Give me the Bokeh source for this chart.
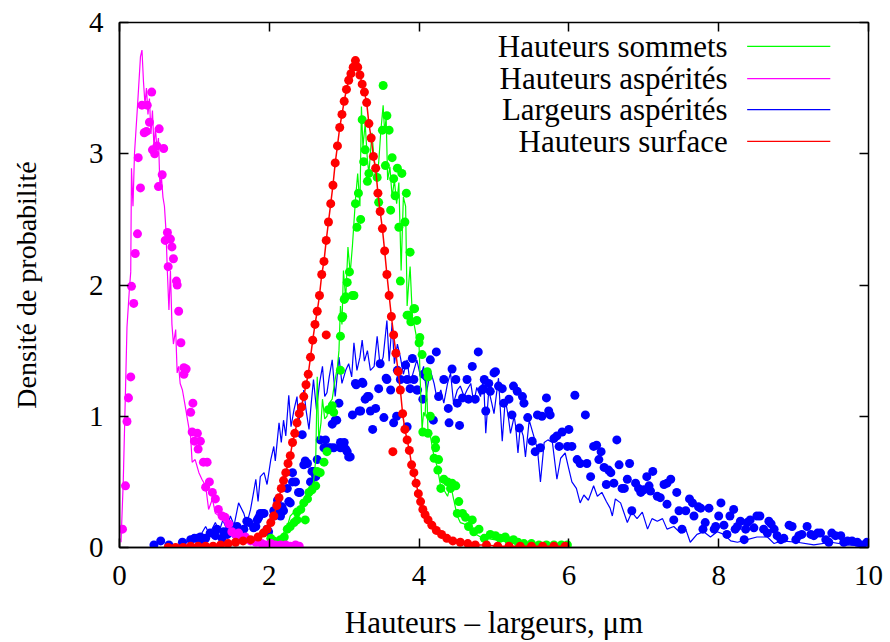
from bokeh.plotting import figure
from bokeh.models import LinearAxis, FixedTicker, Label, Range1d
from bokeh.embed import file_html
from bokeh.resources import INLINE

# ---------------- data ----------------
series_names = ["Hauteurs sommets", "Hauteurs aspérités", "Largeurs aspérités", "Hauteurs surface"]
series_colors = ["#00ff00", "#ff00ff", "#0000ff", "#ff0000"]
x_ticks = [0, 2, 4, 6, 8, 10]
y_ticks = [0, 1, 2, 3, 4]

# Hauteurs aspérités (magenta)
asp_line_x = [0.02, 0.05, 0.08, 0.10, 0.13, 0.15, 0.16, 0.18, 0.20, 0.24, 0.28, 0.30, 0.32, 0.34, 0.36,
              0.38, 0.40, 0.42, 0.44, 0.46, 0.48, 0.50, 0.52, 0.54, 0.56, 0.58, 0.60, 0.62, 0.64, 0.66,
              0.68, 0.70, 0.72, 0.75, 0.77, 0.79, 0.81, 0.84, 0.88, 0.90, 0.93, 0.95, 0.97, 1.01, 1.06,
              1.10, 1.15, 1.19, 1.24, 1.28, 1.33, 1.37, 1.42, 1.46, 1.51, 1.55, 1.60, 1.64, 1.70]
asp_line_y = [0.04, 0.50, 1.20, 1.68, 1.95, 2.10, 2.89, 2.60, 3.00, 3.36, 3.74, 3.79, 3.55, 3.38, 3.50,
              3.30, 3.42, 3.15, 3.33, 3.05, 3.20, 3.03, 3.12, 2.75, 2.82, 2.67, 2.60, 2.42, 2.09, 1.81,
              2.11, 1.70, 1.55, 1.66, 1.33, 1.38, 1.25, 1.20, 1.07, 1.00, 0.90, 0.84, 0.65, 0.67, 0.57,
              0.52, 0.47, 0.29, 0.37, 0.26, 0.24, 0.21, 0.18, 0.16, 0.12, 0.11, 0.08, 0.06, 0.04]
asp_pts_x = [0.04, 0.08, 0.10, 0.12, 0.15, 0.16, 0.19, 0.21, 0.24, 0.25, 0.28, 0.30, 0.33, 0.36, 0.37,
             0.40, 0.43, 0.44, 0.47, 0.50, 0.52, 0.53, 0.57, 0.59, 0.61, 0.64, 0.65, 0.68, 0.70, 0.72,
             0.76, 0.77, 0.79, 0.82, 0.86, 0.86, 0.89, 0.95, 0.97, 0.98, 1.00, 1.04, 1.05, 1.08, 1.12,
             1.15, 1.17, 1.20, 1.24, 1.28, 1.32, 1.37, 1.41, 1.46, 1.50, 1.55, 1.59, 1.64, 1.68, 1.75,
             1.82, 1.90, 1.95, 2.02, 2.08, 2.15, 2.22, 2.28, 2.35, 2.40]
asp_pts_y = [0.14, 0.47, 0.96, 1.14, 1.30, 1.99, 1.86, 2.24, 2.39, 2.97, 2.74, 3.37, 3.16, 3.17, 3.37,
             3.24, 3.47, 3.03, 3.00, 3.06, 2.75, 3.19, 2.84, 3.04, 2.34, 2.40, 2.14, 2.35, 2.29, 2.20,
             2.03, 2.00, 1.80, 1.56, 1.37, 1.32, 1.36, 1.03, 0.88, 1.10, 0.81, 0.87, 0.75, 0.81, 0.65,
             0.46, 0.65, 0.50, 0.42, 0.37, 0.29, 0.24, 0.23, 0.18, 0.12, 0.10, 0.11, 0.07, 0.08, 0.05,
             0.04, 0.03, 0.02, 0.03, 0.02, 0.02, 0.02, 0.01, 0.02, 0.01]

# Hauteurs sommets (green)
som_line_x = [1.95, 2.00, 2.05, 2.10, 2.15, 2.20, 2.25, 2.28, 2.33, 2.37, 2.42, 2.46, 2.50, 2.55, 2.58,
              2.62, 2.64, 2.66, 2.69, 2.71, 2.74, 2.77, 2.80, 2.84, 2.87, 2.91, 2.93, 2.95, 2.97, 2.99,
              3.02, 3.05, 3.08, 3.11, 3.15, 3.18, 3.21, 3.23, 3.25, 3.28, 3.31, 3.33, 3.37, 3.40, 3.42,
              3.46, 3.49, 3.52, 3.54, 3.56, 3.58, 3.61, 3.64, 3.67, 3.70, 3.73, 3.76, 3.79, 3.82, 3.84,
              3.86, 3.88, 3.91, 3.93, 3.96, 4.00, 4.02, 4.04, 4.06, 4.08, 4.10, 4.12, 4.15, 4.20, 4.24,
              4.29, 4.33, 4.38, 4.42, 4.46, 4.51, 4.55, 4.60, 4.64, 4.69, 4.73, 4.82, 4.90, 5.00, 5.10,
              5.20, 5.35, 5.50, 5.65, 5.80, 5.95]
som_line_y = [0.00, 0.02, 0.03, 0.05, 0.07, 0.12, 0.18, 0.24, 0.27, 0.22, 0.31, 0.35, 0.40, 0.47, 0.44,
              0.67, 1.30, 0.82, 0.95, 1.13, 0.98, 1.00, 1.10, 1.13, 1.25, 1.38, 1.50, 1.84, 1.70, 2.11,
              1.89, 2.29, 2.09, 2.30, 2.65, 2.85, 2.60, 3.36, 3.05, 3.23, 2.95, 2.85, 3.16, 2.95, 2.80,
              2.93, 3.18, 3.37, 3.16, 3.28, 2.80, 2.90, 2.67, 2.80, 2.62, 2.78, 2.11, 2.67, 2.60, 1.84,
              2.00, 2.14, 1.76, 1.71, 1.62, 1.53, 1.20, 0.90, 1.03, 1.00, 1.28, 0.85, 0.85, 0.69, 0.62,
              0.46, 0.44, 0.39, 0.48, 0.37, 0.24, 0.19, 0.18, 0.16, 0.13, 0.11, 0.08, 0.07, 0.06, 0.05,
              0.04, 0.03, 0.02, 0.02, 0.01, 0.01]
som_pts_x = [2.02, 2.06, 2.10, 2.15, 2.20, 2.24, 2.28, 2.33, 2.37, 2.37, 2.42, 2.48, 2.46, 2.51, 2.53,
             2.57, 2.62, 2.64, 2.68, 2.73, 2.77, 2.79, 2.84, 2.86, 2.95, 2.95, 2.97, 2.98, 3.00, 3.02,
             3.04, 3.07, 3.11, 3.13, 3.15, 3.17, 3.19, 3.22, 3.24, 3.26, 3.28, 3.31, 3.33, 3.44, 3.46,
             3.51, 3.52, 3.55, 3.57, 3.60, 3.62, 3.64, 3.66, 3.68, 3.71, 3.73, 3.75, 3.77, 3.81, 3.83,
             3.84, 3.86, 3.88, 3.89, 3.93, 3.94, 3.97, 4.00, 4.01, 4.04, 4.05, 4.11, 4.12, 4.12, 4.15,
             4.20, 4.22, 4.22, 4.25, 4.26, 4.29, 4.33, 4.38, 4.42, 4.44, 4.49, 4.51, 4.53, 4.58, 4.62,
             4.66, 4.71, 4.73, 4.80, 4.87, 4.95, 5.02, 5.08, 5.15, 5.20, 5.26, 5.32, 5.40, 5.50, 5.60,
             5.70, 5.80, 5.90, 5.98]
som_pts_y = [0.07, 0.05, 0.04, 0.06, 0.08, 0.14, 0.16, 0.19, 0.21, 0.27, 0.29, 0.21, 0.34, 0.37, 0.42,
             0.44, 0.47, 0.58, 0.57, 0.65, 0.73, 1.05, 1.08, 1.03, 1.35, 1.61, 1.75, 1.76, 1.89, 1.91,
             2.02, 2.10, 1.92, 1.92, 2.62, 2.44, 2.70, 2.50, 3.26, 2.94, 3.03, 2.79, 2.85, 2.82, 2.63,
             3.18, 3.52, 2.91, 3.29, 3.18, 2.57, 2.97, 2.81, 2.68, 2.89, 2.44, 2.03, 2.85, 2.48, 2.70,
             1.77, 1.77, 2.25, 1.72, 1.82, 1.82, 1.73, 1.56, 1.60, 1.47, 0.88, 1.34, 1.30, 0.87, 1.00,
             0.68, 0.82, 0.76, 0.59, 0.67, 0.45, 0.52, 0.50, 0.45, 0.49, 0.47, 0.26, 0.35, 0.26, 0.23,
             0.16, 0.21, 0.12, 0.14, 0.07, 0.10, 0.09, 0.07, 0.08, 0.05, 0.06, 0.04, 0.03, 0.03, 0.02,
             0.02, 0.02, 0.02, 0.02]

# Largeurs aspérités (blue)
lar_line_x = [0.84, 0.90, 0.97, 1.03, 1.10, 1.15, 1.20, 1.28, 1.33, 1.38, 1.43, 1.48, 1.53, 1.59, 1.66,
              1.70, 1.75, 1.79, 1.82, 1.85, 1.88, 1.93, 1.97, 2.02, 2.06, 2.08, 2.13, 2.16, 2.19, 2.22,
              2.26, 2.29, 2.33, 2.37, 2.39, 2.44, 2.46, 2.49, 2.53, 2.56, 2.59, 2.63, 2.67, 2.71, 2.74,
              2.77, 2.80, 2.84, 2.88, 2.93, 2.97, 3.02, 3.06, 3.10, 3.13, 3.17, 3.21, 3.24, 3.27, 3.31,
              3.35, 3.40, 3.44, 3.48, 3.52, 3.57, 3.60, 3.64, 3.67, 3.71, 3.75, 3.79, 3.84, 3.88, 3.93,
              3.97, 4.02, 4.06, 4.10, 4.15, 4.20, 4.24, 4.29, 4.33, 4.38, 4.42, 4.46, 4.51, 4.55, 4.60,
              4.64, 4.69, 4.73, 4.77, 4.82, 4.86, 4.89, 4.93, 4.97, 5.00, 5.06, 5.11, 5.15, 5.19, 5.22,
              5.27, 5.29, 5.32, 5.35, 5.39, 5.42, 5.47, 5.53, 5.58, 5.62, 5.67, 5.72, 5.78, 5.84, 5.89,
              5.95, 5.99, 6.04, 6.10, 6.15, 6.20, 6.26, 6.33, 6.38, 6.44, 6.50, 6.55, 6.58, 6.62, 6.69,
              6.78, 6.84, 6.91, 6.98, 7.05, 7.11, 7.18, 7.25, 7.31, 7.40, 7.49, 7.56, 7.62, 7.71, 7.80,
              7.89, 7.98, 8.07, 8.16, 8.25, 8.38, 8.51, 8.65, 8.74, 8.83, 9.05, 9.27, 9.50, 9.72, 9.94]
lar_line_y = [0.02, 0.05, 0.09, 0.07, 0.11, 0.16, 0.10, 0.19, 0.12, 0.21, 0.14, 0.24, 0.17, 0.34, 0.26,
              0.18, 0.29, 0.42, 0.52, 0.35, 0.54, 0.57, 0.48, 0.67, 0.77, 0.66, 0.95, 0.80, 0.97, 0.85,
              1.16, 0.92, 1.05, 1.15, 0.95, 1.10, 1.20, 1.05, 0.90, 1.10, 1.28, 1.05, 1.25, 1.38, 1.15,
              1.18, 1.30, 1.43, 1.15, 1.45, 1.25, 1.35, 1.40, 1.30, 1.56, 1.35, 1.45, 1.58, 1.42, 1.50,
              1.35, 1.38, 1.61, 1.38, 1.45, 1.73, 1.42, 1.71, 1.40, 1.55, 1.45, 1.32, 1.43, 1.25, 1.35,
              1.43, 1.30, 1.38, 1.18, 1.35, 1.25, 1.13, 1.20, 1.10, 1.25, 1.33, 1.10, 1.20, 1.23, 1.15,
              1.20, 1.25, 1.10, 1.22, 1.15, 1.30, 0.87, 1.20, 1.10, 1.02, 1.29, 0.81, 1.13, 1.00, 0.87,
              1.00, 0.92, 0.72, 0.92, 0.85, 0.69, 0.97, 0.85, 0.75, 0.50, 0.80, 0.82, 0.80, 0.52, 0.68,
              0.72, 0.62, 0.50, 0.45, 0.34, 0.40, 0.36, 0.47, 0.39, 0.42, 0.35, 0.30, 0.24, 0.37, 0.34,
              0.19, 0.27, 0.22, 0.27, 0.14, 0.22, 0.20, 0.22, 0.14, 0.16, 0.11, 0.14, 0.04, 0.10, 0.12,
              0.08, 0.12, 0.10, 0.05, 0.04, 0.06, 0.08, 0.08, 0.03, 0.05, 0.04, 0.02, 0.04, 0.02, 0.01]
lar_pts_x = [0.46, 0.55, 0.66, 0.84, 0.95, 1.00, 1.04, 1.08, 1.10, 1.15, 1.21, 1.28, 1.30, 1.37, 1.39,
             1.44, 1.48, 1.55, 1.57, 1.66, 1.70, 1.73, 1.79, 1.82, 1.84, 1.86, 1.88, 1.91, 1.93, 1.97,
             1.99, 2.06, 2.06, 2.11, 2.13, 2.15, 2.17, 2.19, 2.24, 2.26, 2.28, 2.31, 2.31, 2.35, 2.39,
             2.41, 2.44, 2.46, 2.48, 2.51, 2.55, 2.57, 2.59, 2.62, 2.62, 2.64, 2.68, 2.73, 2.75, 2.79,
             2.82, 2.84, 2.86, 2.88, 2.90, 2.93, 2.95, 2.95, 3.00, 3.02, 3.04, 3.06, 3.08, 3.11, 3.15,
             3.16, 3.20, 3.22, 3.24, 3.25, 3.28, 3.31, 3.33, 3.35, 3.38, 3.42, 3.46, 3.48, 3.53, 3.56,
             3.57, 3.62, 3.66, 3.70, 3.71, 3.75, 3.82, 3.84, 3.84, 3.88, 3.91, 3.93, 3.97, 3.98, 4.05,
             4.06, 4.10, 4.15, 4.19, 4.23, 4.26, 4.33, 4.39, 4.40, 4.44, 4.49, 4.51, 4.54, 4.58, 4.64,
             4.66, 4.71, 4.75, 4.79, 4.84, 4.86, 4.87, 4.89, 4.93, 4.95, 5.00, 5.02, 5.06, 5.11, 5.13,
             5.20, 5.24, 5.26, 5.31, 5.34, 5.38, 5.40, 5.45, 5.51, 5.55, 5.58, 5.62, 5.64, 5.70, 5.73,
             5.75, 5.80, 5.84, 5.87, 5.91, 5.98, 6.00, 6.04, 6.08, 6.11, 6.15, 6.22, 6.24, 6.29, 6.33,
             6.37, 6.40, 6.43, 6.47, 6.50, 6.53, 6.56, 6.60, 6.64, 6.67, 6.71, 6.74, 6.78, 6.81, 6.84,
             6.89, 6.93, 6.96, 7.00, 7.04, 7.07, 7.09, 7.12, 7.18, 7.22, 7.27, 7.31, 7.31, 7.36, 7.40,
             7.44, 7.47, 7.51, 7.56, 7.61, 7.65, 7.67, 7.73, 7.76, 7.79, 7.82, 7.87, 7.94, 7.96, 8.00,
             8.03, 8.07, 8.11, 8.15, 8.20, 8.22, 8.25, 8.29, 8.34, 8.36, 8.38, 8.42, 8.47, 8.51, 8.55,
             8.60, 8.65, 8.67, 8.70, 8.74, 8.78, 8.83, 8.87, 8.94, 8.98, 9.03, 9.07, 9.11, 9.18, 9.23,
             9.27, 9.32, 9.36, 9.43, 9.47, 9.51, 9.56, 9.63, 9.67, 9.72, 9.78, 9.85, 9.91, 9.98]
lar_pts_y = [0.02, 0.05, 0.02, 0.04, 0.06, 0.07, 0.07, 0.08, 0.05, 0.07, 0.11, 0.09, 0.14, 0.07, 0.12,
             0.10, 0.16, 0.10, 0.16, 0.14, 0.20, 0.19, 0.15, 0.16, 0.21, 0.23, 0.26, 0.26, 0.26, 0.14,
             0.12, 0.24, 0.28, 0.36, 0.29, 0.24, 0.31, 0.28, 0.45, 0.35, 0.34, 0.57, 0.50, 0.50, 0.42,
             0.42, 0.86, 0.63, 0.66, 0.64, 0.50, 0.58, 0.58, 0.55, 0.54, 0.67, 0.82, 0.76, 0.82, 0.76,
             0.76, 0.94, 0.76, 0.97, 0.97, 1.10, 0.76, 0.80, 0.80, 0.75, 0.73, 0.69, 0.69, 1.01, 1.25,
             1.24, 1.04, 1.04, 1.26, 1.25, 1.13, 1.15, 1.15, 1.04, 0.90, 1.06, 1.21, 1.40, 0.99, 1.29,
             1.28, 1.20, 0.95, 1.00, 1.35, 1.28, 1.39, 0.92, 1.28, 1.21, 1.44, 1.28, 1.20, 1.20, 1.13,
             1.32, 1.30, 1.43, 0.97, 1.49, 1.15, 1.28, 1.06, 0.95, 1.36, 1.28, 1.10, 0.93, 1.14, 1.28,
             1.13, 1.38, 1.13, 1.49, 1.20, 1.21, 1.28, 1.04, 1.25, 1.19, 1.33, 1.34, 1.23, 1.21, 1.10,
             1.13, 1.01, 1.23, 1.19, 0.91, 1.15, 1.10, 0.99, 0.81, 0.73, 1.01, 0.76, 1.00, 1.14, 1.04,
             1.01, 0.83, 0.85, 0.77, 0.88, 0.77, 0.90, 0.77, 1.16, 0.67, 0.64, 1.01, 0.64, 0.54, 0.77,
             0.78, 0.67, 0.73, 0.61, 0.48, 0.59, 0.57, 0.49, 0.82, 0.63, 0.45, 0.45, 0.52, 0.64, 0.28,
             0.49, 0.45, 0.42, 0.44, 0.54, 0.47, 0.43, 0.58, 0.39, 0.38, 0.48, 0.49, 0.33, 0.52, 0.21,
             0.42, 0.28, 0.14, 0.28, 0.37, 0.34, 0.24, 0.31, 0.30, 0.14, 0.19, 0.30, 0.14, 0.16, 0.24,
             0.34, 0.17, 0.10, 0.24, 0.29, 0.14, 0.16, 0.20, 0.06, 0.14, 0.19, 0.21, 0.15, 0.24, 0.24,
             0.14, 0.11, 0.20, 0.18, 0.14, 0.09, 0.06, 0.07, 0.17, 0.16, 0.06, 0.09, 0.10, 0.16, 0.10,
             0.09, 0.11, 0.11, 0.06, 0.04, 0.11, 0.09, 0.09, 0.04, 0.05, 0.05, 0.04, 0.02, 0.04]

# Hauteurs surface (red)
sur_x = [0.65, 0.75, 0.85, 0.95, 1.05, 1.15, 1.25, 1.35, 1.45, 1.55, 1.65, 1.75, 1.85, 1.92, 1.97,
         2.02, 2.06, 2.10, 2.13, 2.16, 2.19, 2.22, 2.25, 2.28, 2.31, 2.34, 2.37, 2.40, 2.43, 2.46,
         2.49, 2.52, 2.55, 2.58, 2.61, 2.64, 2.67, 2.70, 2.73, 2.76, 2.79, 2.82, 2.85, 2.88, 2.91,
         2.94, 2.97, 3.00, 3.03, 3.06, 3.09, 3.12, 3.15, 3.18, 3.21, 3.24, 3.27, 3.30, 3.33, 3.36,
         3.39, 3.42, 3.45, 3.48, 3.51, 3.54, 3.57, 3.60, 3.63, 3.66, 3.69, 3.72, 3.75, 3.78, 3.81,
         3.84, 3.87, 3.90, 3.93, 3.96, 3.99, 4.02, 4.05, 4.08, 4.12, 4.17, 4.23, 4.30, 4.37, 4.45,
         4.55, 4.65, 4.75, 4.90, 5.05, 5.20, 5.35, 5.50, 5.65, 5.80, 5.95]
sur_y = [0.00, 0.00, 0.00, 0.01, 0.01, 0.01, 0.01, 0.02, 0.03, 0.04, 0.05, 0.06, 0.08, 0.11, 0.14,
         0.19, 0.24, 0.32, 0.38, 0.45, 0.51, 0.57, 0.64, 0.70, 0.80, 0.87, 0.95, 1.02, 1.07, 1.15,
         1.24, 1.32, 1.45, 1.58, 1.70, 1.80, 1.92, 2.08, 2.18, 2.34, 2.48, 2.62, 2.76, 2.93, 3.06,
         3.20, 3.30, 3.40, 3.49, 3.56, 3.61, 3.66, 3.71, 3.66, 3.60, 3.53, 3.47, 3.39, 3.23, 3.12,
         2.98, 2.89, 2.70, 2.56, 2.43, 2.26, 2.08, 1.92, 1.76, 1.62, 1.48, 1.34, 1.20, 1.02, 0.90,
         0.82, 0.74, 0.63, 0.57, 0.49, 0.41, 0.35, 0.29, 0.25, 0.21, 0.17, 0.13, 0.10, 0.07, 0.05,
         0.04, 0.03, 0.02, 0.02, 0.01, 0.01, 0.01, 0.01, 0.01, 0.01, 0.01]
sur_extra_x = [2.76, 3.65]
sur_extra_y = [1.62, 0.73]

FONT = "Liberation Serif"
FS_TICK = "29px"
FS_TEXT = "31px"
FS_YLAB = "28px"

p = figure(width=890, height=642, x_range=Range1d(0, 10), y_range=Range1d(0, 4),
           output_backend="svg", toolbar_location=None,
           min_border_left=119, min_border_right=22, min_border_top=22, min_border_bottom=94)
p.background_fill_color = "white"
p.border_fill_color = "white"
p.xgrid.visible = False
p.ygrid.visible = False
p.outline_line_color = "black"
p.outline_line_width = 1.5
p.outline_line_alpha = 1.0

for ax in (p.xaxis[0], p.yaxis[0]):
    ax.major_tick_in = 9
    ax.major_tick_out = 0
    ax.minor_tick_line_color = None
    ax.axis_line_color = "black"
    ax.axis_line_width = 1.5
    ax.major_tick_line_width = 1.5
    ax.major_tick_line_color = "black"
    ax.major_label_text_font = FONT
    ax.major_label_text_font_size = FS_TICK
    ax.major_label_text_color = "black"
    ax.axis_label_text_font = FONT
    ax.axis_label_text_font_style = "normal"
    ax.axis_label_text_color = "black"
p.xaxis[0].ticker = FixedTicker(ticks=x_ticks)
p.yaxis[0].ticker = FixedTicker(ticks=y_ticks)
p.xaxis[0].major_label_standoff = 18
p.yaxis[0].major_label_standoff = 16
p.yaxis[0].axis_label = "Densité de probabilité"
p.yaxis[0].axis_label_text_font_size = FS_YLAB
p.yaxis[0].axis_label_standoff = 44
p.xaxis[0].axis_label = "Hauteurs – largeurs, μm"
p.xaxis[0].axis_label_text_font_size = FS_TEXT
p.xaxis[0].axis_label_standoff = 17

# mirrored ticks on top and right
top_ax = LinearAxis(ticker=FixedTicker(ticks=x_ticks), major_label_overrides={t: "" for t in x_ticks})
right_ax = LinearAxis(ticker=FixedTicker(ticks=y_ticks), major_label_overrides={t: "" for t in y_ticks})
for ax in (top_ax, right_ax):
    ax.major_tick_in = 9
    ax.major_tick_out = 0
    ax.minor_tick_line_color = None
    ax.axis_line_color = None
    ax.major_tick_line_width = 1.5
    ax.major_tick_line_color = "black"
    ax.major_label_standoff = 0
p.add_layout(top_ax, "above")
p.add_layout(right_ax, "right")

# data glyphs
c_som, c_asp, c_lar, c_sur = series_colors
p.scatter(lar_pts_x, lar_pts_y, size=9, marker="circle", color=c_lar, line_width=0)
p.line(lar_line_x, lar_line_y, color=c_lar, line_width=1.2)
p.scatter(som_pts_x, som_pts_y, size=9, marker="circle", color=c_som, line_width=0)
p.line(som_line_x, som_line_y, color=c_som, line_width=1.2)
p.scatter(asp_pts_x, asp_pts_y, size=9, marker="circle", color=c_asp, line_width=0)
p.line(asp_line_x, asp_line_y, color=c_asp, line_width=1.2)
p.line(sur_x, sur_y, color=c_sur, line_width=1.5)
p.scatter(sur_x + sur_extra_x, sur_y + sur_extra_y, size=9, marker="circle", color=c_sur, line_width=0)

# legend (gnuplot style: right-aligned text, sample line to the right)
leg_text_x = 8.12
leg_line_x0, leg_line_x1 = 8.38, 9.49
leg_line_y = [3.818, 3.572, 3.336, 3.095]
for name, col, ly in zip(series_names, series_colors, leg_line_y):
    p.add_layout(Label(x=leg_text_x, y=ly, text=name, text_align="right", text_baseline="middle",
                       text_font=FONT, text_font_size=FS_TEXT, text_color="black"))
    p.segment(x0=[leg_line_x0], y0=[ly], x1=[leg_line_x1], y1=[ly], color=col, line_width=1.3)

open("out.html", "w").write(file_html(p, INLINE))
